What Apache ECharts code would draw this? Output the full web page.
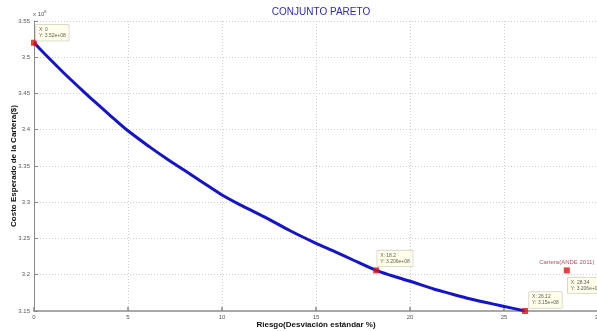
<!DOCTYPE html>
<html><head><meta charset="utf-8">
<script src="https://cdn.jsdelivr.net/npm/echarts@6/dist/echarts.min.js"></script>
<style>html,body{margin:0;padding:0;background:#fff}#c{width:597px;height:331px}</style>
</head><body><div id="c"></div>
<script>
// Pareto frontier: risk (%) vs expected cost (x 1e8 $)
var riskX = [0, 0.67, 1.56, 2.54, 3, 4, 4.93, 6.17, 7, 8, 9, 10, 11, 12.46, 13.6, 14.95, 16, 17, 18.2, 19, 20, 21.3, 22, 23, 24, 24.9, 26.12];
var costY = [3.52, 3.502, 3.479, 3.455, 3.444, 3.421, 3.40, 3.376, 3.361, 3.344, 3.327, 3.31, 3.296, 3.277, 3.261, 3.244, 3.232, 3.220, 3.206, 3.199, 3.191, 3.180, 3.175, 3.168, 3.162, 3.157, 3.150];
var tipPoints = [[0, 3.52], [18.2, 3.206], [26.12, 3.15]];
var tipLabels = [['X: 0', 'Y: 3.52e+08'], ['X: 18.2', 'Y: 3.206e+08'], ['X: 26.12', 'Y: 3.15e+08']];
var anSpot = [28.34, 3.206];
var anTip = ['X: 28.34', 'Y: 3.206e+08'];
var anName = 'Cartera(ANDE 2011)';
var xTicks = [0, 5, 10, 15, 20, 25, 30];

var chart = echarts.init(document.getElementById('c'), null, {renderer: 'canvas'});
var font = 'Liberation Sans, Arial, sans-serif';
var tipStyle = {
  show: true, fontFamily: font, fontSize: 5, lineHeight: 6, color: '#333',
  backgroundColor: '#ffffe6', borderColor: '#b0b0a0', borderWidth: 0.5,
  padding: [2, 3], align: 'left', verticalAlign: 'top'
};
var tipOffsets = [[5, -15], [4, -17], [7, -16]];
var lineData = riskX.map(function (x, i) { return [x, costY[i]]; });
var series = [{
  type: 'line', data: lineData, showSymbol: false, smooth: 0.3,
  lineStyle: {color: '#1414c8', width: 3}, z: 2, silent: true
}];
tipPoints.forEach(function (p, i) {
  series.push({
    type: 'scatter', data: [p], symbol: 'rect', symbolSize: 6,
    itemStyle: {color: '#e01010'}, z: 5, clip: false,
    label: Object.assign({}, tipStyle, {position: tipOffsets[i], formatter: tipLabels[i].join('\n')})
  });
});
series.push({
  type: 'scatter', data: [anSpot], symbol: 'rect', symbolSize: 6,
  itemStyle: {color: '#e01010'}, z: 5, clip: false,
  label: Object.assign({}, tipStyle, {position: [4, 10], formatter: anTip.join('\n')})
});
series.push({
  type: 'scatter', data: [anSpot], symbol: 'circle', symbolSize: 1, z: 4, clip: false,
  itemStyle: {color: 'rgba(0,0,0,0)'},
  label: {show: true, position: 'top', distance: 5, formatter: anName,
    fontFamily: font, fontSize: 6, color: '#a02838'}
});

chart.setOption({
  animation: false,
  backgroundColor: '#fff',
  title: {text: 'CONJUNTO PARETO', left: 316, top: 2, textAlign: 'center',
    textStyle: {fontFamily: font, fontSize: 10, fontWeight: 'normal', color: '#2a2ab4'}},
  grid: {left: 34, top: 21, width: 564, height: 290, containLabel: false, outerBoundsMode: 'none'},
  xAxis: {
    type: 'value', min: 0, max: 30, interval: 5,
    name: 'Riesgo(Desviación estándar %)', nameLocation: 'middle', nameGap: 10, nameMoveOverlap: false,
    nameTextStyle: {fontFamily: font, fontSize: 8, fontWeight: 'bold', color: '#111'},
    axisLine: {show: true, lineStyle: {color: '#a8a8a8', width: 2}},
    axisTick: {show: true, inside: true, length: 4, lineStyle: {color: '#888', width: 1.5}},
    axisLabel: {fontFamily: font, fontSize: 6, color: '#555', margin: 3,
      formatter: function (v) { return xTicks.indexOf(v) >= 0 ? String(v) : ''; }},
    splitLine: {show: true, lineStyle: {color: '#cfcfcf', type: [1, 2], width: 1}}
  },
  yAxis: {
    type: 'value', min: 3.15, max: 3.55, interval: 0.05,
    name: 'Costo Esperado de la Cartera($)', nameLocation: 'middle', nameGap: 16, nameRotate: 90, nameMoveOverlap: false,
    nameTextStyle: {fontFamily: font, fontSize: 8, fontWeight: 'bold', color: '#111'},
    axisLine: {show: true, lineStyle: {color: '#888', width: 1}},
    axisTick: {show: true, inside: true, length: 4, lineStyle: {color: '#888', width: 1}},
    axisLabel: {fontFamily: font, fontSize: 6, color: '#555', margin: 4,
      formatter: function (v) { return String(parseFloat(v.toFixed(2))); }},
    splitLine: {show: true, lineStyle: {color: '#cfcfcf', type: [1, 2], width: 1}}
  },
  graphic: [{
    type: 'text', left: 33, top: 10,
    style: {text: 'x 10{s|8}', fontFamily: font, fontSize: 6, fill: '#555',
      rich: {s: {fontSize: 4, verticalAlign: 'top', padding: [0, 0, 4, 0], fill: '#555'}}}
  }],
  series: series
});
</script></body></html>
